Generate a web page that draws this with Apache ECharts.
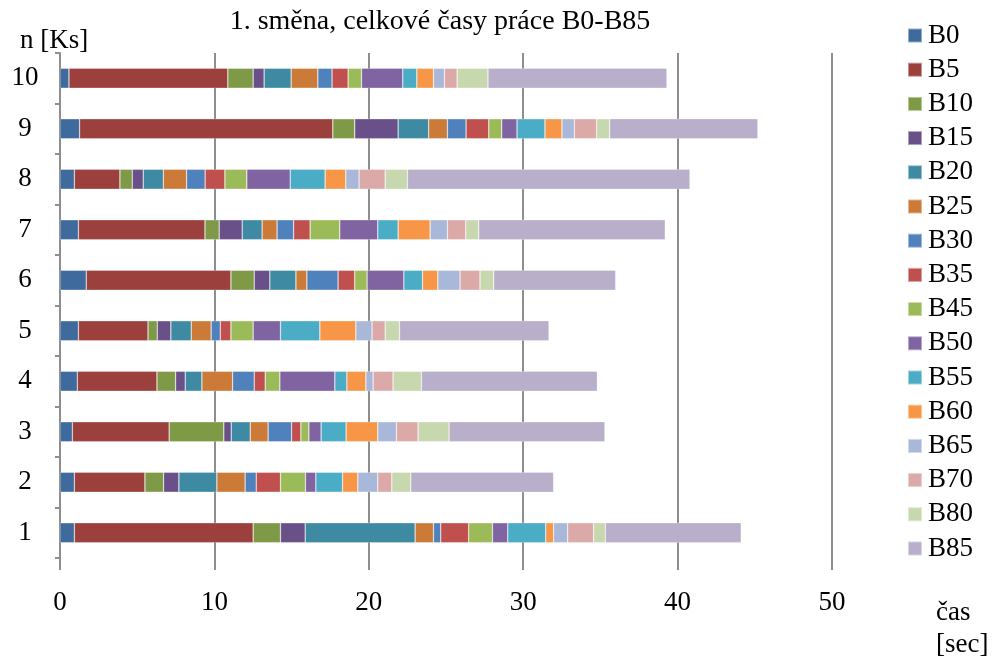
<!DOCTYPE html>
<html>
<head>
<meta charset="utf-8">
<script src="https://cdn.jsdelivr.net/npm/echarts@6/dist/echarts.min.js"></script>
<style>
  html, body { margin: 0; padding: 0; background: #fff; }
  #chart { width: 995px; height: 664px; }
</style>
</head>
<body>
<div id="chart"></div>
<script>
// Rows (n [Ks]) from bottom to top
const categories = ['1', '2', '3', '4', '5', '6', '7', '8', '9', '10'];

// Work time per operation [sec], one value per row 1..10
const B0  = [0.93, 0.93, 0.80, 1.12, 1.19, 1.70, 1.19, 0.93, 1.27, 0.58];
const B5  = [11.58, 4.57, 6.27, 5.16, 4.51, 9.37, 8.20, 2.95, 16.40, 10.29];
const B10 = [1.77, 1.21, 3.54, 1.21, 0.60, 1.51, 0.92, 0.80, 1.42, 1.64];
const B15 = [1.60, 0.99, 0.48, 0.62, 0.88, 1.01, 1.49, 0.71, 2.81, 0.71];
const B20 = [7.12, 2.46, 1.23, 1.08, 1.32, 1.69, 1.29, 1.30, 1.98, 1.75];
const B25 = [1.19, 1.83, 1.16, 1.99, 1.29, 0.71, 0.97, 1.51, 1.21, 1.73];
const B30 = [0.47, 0.72, 1.52, 1.40, 0.59, 2.02, 1.07, 1.20, 1.21, 0.92];
const B35 = [1.81, 1.57, 0.60, 0.71, 0.69, 1.08, 1.07, 1.28, 1.47, 1.04];
const B45 = [1.54, 1.62, 0.52, 0.95, 1.44, 0.80, 1.92, 1.42, 0.84, 0.87];
const B50 = [0.99, 0.67, 0.79, 3.56, 1.77, 2.38, 2.46, 2.81, 0.99, 2.67];
const B55 = [2.46, 1.73, 1.62, 0.78, 2.55, 1.21, 1.32, 2.26, 1.81, 0.91];
const B60 = [0.51, 0.99, 2.05, 1.23, 2.33, 0.99, 2.07, 1.34, 1.10, 1.08];
const B65 = [0.91, 1.29, 1.21, 0.47, 1.05, 1.44, 1.12, 0.86, 0.80, 0.71];
const B70 = [1.68, 0.91, 1.40, 1.29, 0.85, 1.29, 1.19, 1.69, 1.45, 0.82];
const B80 = [0.76, 1.23, 2.01, 1.84, 0.93, 0.89, 0.84, 1.44, 0.84, 2.00];
const B85 = [8.80, 9.25, 10.09, 11.39, 9.68, 7.90, 12.08, 18.30, 9.60, 11.59];

const seriesNames = ['B0', 'B5', 'B10', 'B15', 'B20', 'B25', 'B30', 'B35',
                     'B45', 'B50', 'B55', 'B60', 'B65', 'B70', 'B80', 'B85'];
const seriesValues = [B0, B5, B10, B15, B20, B25, B30, B35,
                      B45, B50, B55, B60, B65, B70, B80, B85];

const colors = ['#3F6A9D', '#9C403E', '#7E9A47', '#6A5088', '#3D8AA2', '#CC7A38',
                '#4F81BD', '#C0504D', '#9BBB59', '#8064A2', '#4BACC6', '#F79646',
                '#A9B8D8', '#DBA9A8', '#C7D7AE', '#B9AFCA'];

const FONT = '"Liberation Serif", "Times New Roman", serif';
const FS = 27;
const GRID_COLOR = '#8E8E8E';

const chart = echarts.init(document.getElementById('chart'), null, { renderer: 'canvas' });

chart.setOption({
  animation: false,
  color: colors,
  textStyle: { fontFamily: FONT },
  graphic: [
    { type: 'text', x: 440, y: 22, style: { text: '1. směna, celkové časy práce B0-B85', font: '28px ' + FONT, fill: '#000', textAlign: 'center', textVerticalAlign: 'middle' } },
    { type: 'text', x: 20, y: 41, style: { text: 'n [Ks]', font: FS + 'px ' + FONT, fill: '#000', textAlign: 'left', textVerticalAlign: 'middle' } },
    { type: 'text', x: 936, y: 613, style: { text: 'čas', font: FS + 'px ' + FONT, fill: '#000', textAlign: 'left', textVerticalAlign: 'middle' } },
    { type: 'text', x: 936, y: 645, style: { text: '[sec]', font: FS + 'px ' + FONT, fill: '#000', textAlign: 'left', textVerticalAlign: 'middle' } }
  ],
  legend: {
    orient: 'vertical',
    left: 902,
    top: 17,
    itemWidth: 14,
    itemHeight: 14,
    itemGap: 7.2,
    icon: 'rect',
    data: seriesNames,
    textStyle: { fontFamily: FONT, fontSize: FS, color: '#000', padding: [0, 0, 0, 1] }
  },
  grid: { left: 60, right: 163, top: 53, bottom: 106, containLabel: false },
  xAxis: {
    type: 'value',
    min: 0,
    max: 50,
    interval: 10,
    axisLine: { show: false },
    axisTick: { show: true, length: 12, lineStyle: { color: GRID_COLOR, width: 2 } },
    splitLine: { show: true, lineStyle: { color: GRID_COLOR, width: 2 } },
    axisLabel: { margin: 31, fontFamily: FONT, fontSize: FS, color: '#000' }
  },
  yAxis: {
    type: 'category',
    data: categories,
    axisLine: { show: true, lineStyle: { color: GRID_COLOR, width: 2 } },
    axisTick: { show: true, length: 5, alignWithLabel: false, lineStyle: { color: GRID_COLOR, width: 2 } },
    axisLabel: { margin: 35, align: 'center', fontFamily: FONT, fontSize: FS, color: '#000' }
  },
  series: seriesNames.map((name, i) => ({
    name: name,
    type: 'bar',
    stack: 'total',
    barWidth: 20,
    data: seriesValues[i],
    itemStyle: { borderColor: 'rgba(255,255,255,0.45)', borderWidth: 0.6 }
  }))
});
</script>
</body>
</html>
